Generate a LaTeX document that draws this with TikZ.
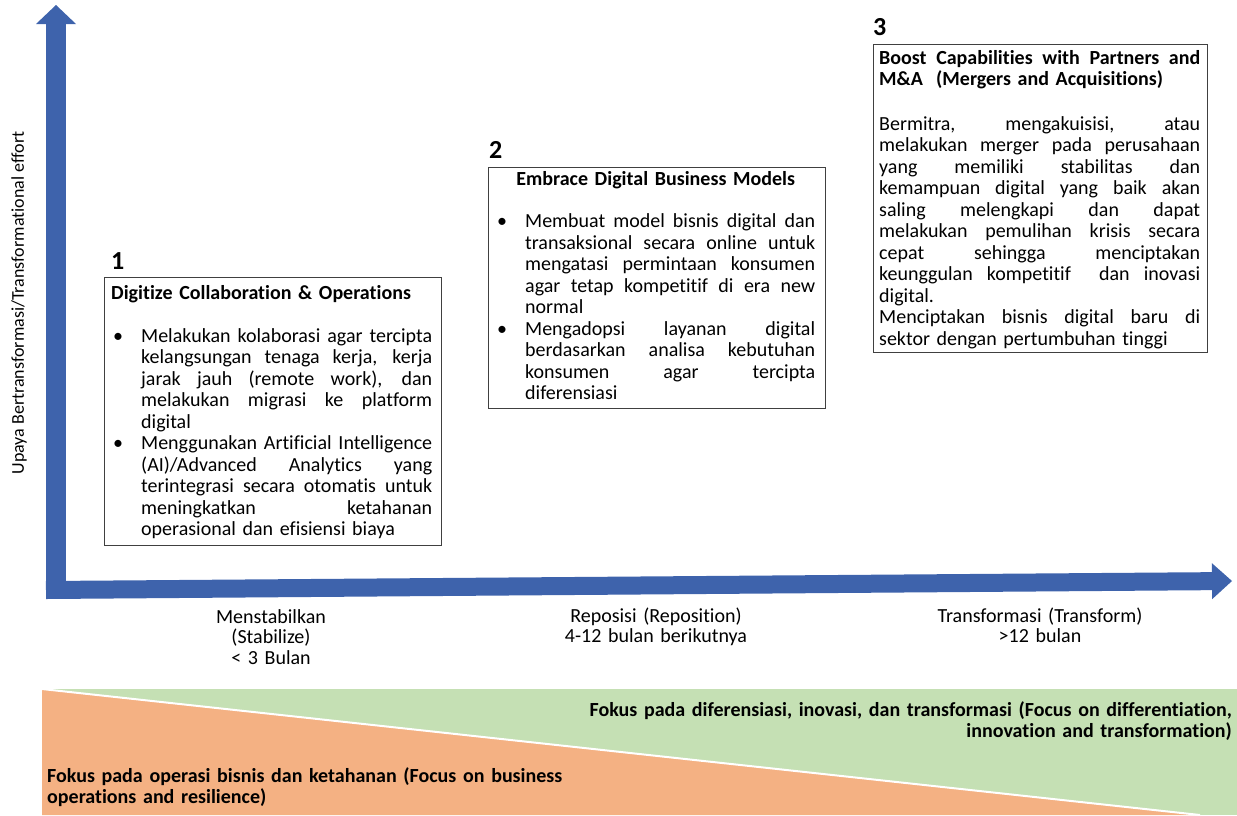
\documentclass[tikz,border=0pt]{standalone}
\usepackage{fontspec}
\setmainfont{Carlito}[Ligatures={NoCommon,NoContextual}]
\usetikzlibrary{arrows.meta}
\definecolor{axisblue}{RGB}{62,99,172}
\definecolor{panelgray}{RGB}{64,64,64}
\definecolor{focusgreen}{RGB}{197,224,180}
\definecolor{focusorange}{RGB}{244,177,131}
% one justified line of a given width: the interword spaces share the slack
\newcommand{\jline}[2]{\leavevmode\hbox to #1{\spaceskip=0.226em plus 1fil\relax #2}}
% bullet and hanging indent for list items
\newcommand{\bul}{\makebox[30pt][l]{\hspace{2pt}\textbullet}}
\newcommand{\ind}{\makebox[30pt]{}}
\begin{document}
\begin{tikzpicture}[x=1pt,y=-1pt,
  panel/.style={draw=panelgray, line width=0.9pt, fill=white, rectangle, inner sep=0pt, anchor=north west},
  body/.style={inner sep=0pt, anchor=base west, align=left, font=\fontsize{20}{21.5}\selectfont},
  stepnum/.style={inner sep=0pt, anchor=base west, font=\bfseries\fontsize{26}{26}\selectfont},
  axislabel/.style={inner sep=0pt, anchor=base, align=center, text width=260pt, font=\fontsize{20}{20.5}\selectfont},
  focus/.style={inner sep=0pt, font=\bfseries\fontsize{20}{21}\selectfont},
  axisarrow/.style={draw=axisblue, line cap=butt},
]
\useasboundingbox (0,0) rectangle (1237,815);

% ---- focus band at the bottom
\coordinate (wedgetop) at (42,689);
\coordinate (wedgeend) at (1200,815);
\coordinate (wedgecorner) at (42,815);
\fill[focusgreen] (42,689) rectangle (1237,815);
\fill[focusorange] (wedgetop) -- (wedgeend) -- (wedgecorner) -- cycle;
\draw[white, line width=2pt] (wedgetop) -- (wedgeend);

\node[focus, anchor=base east, text width=700pt, align=right] (focusinnov) at (1232,716)
  {Fokus pada diferensiasi, inovasi, dan transformasi (Focus on differentiation,\\
   innovation and transformation)};
\node[focus, anchor=base west, text width=600pt, align=left] (focusops) at (47,782)
  {Fokus pada operasi bisnis dan ketahanan (Focus on business\\
   operations and resilience)};

% ---- axes
\coordinate (xstart) at (46,590);
\coordinate (xtip) at (1232,581);
\coordinate (yfoot) at (56,599);
\coordinate (ytip) at (56,5);
\draw[axisarrow, line width=18pt, -{Triangle[width=36pt,length=20pt,line width=0pt]}] (xstart) -- (xtip);
\draw[axisarrow, line width=20pt, -{Triangle[width=40pt,length=19pt,line width=0pt]}] (yfoot) -- (ytip);

\node[rotate=90, inner sep=0pt, font=\fontsize{18}{18}\selectfont] (ylabel) at (19,303)
  {Upaya Bertransformasi/Transformational effort};

% ---- phase labels under the time axis
\node[axislabel] (phase1) at (271,623) {Menstabilkan\\(Stabilize)\\< 3 Bulan};
\node[axislabel] (phase2) at (656,622) {Reposisi (Reposition)\\4-12 bulan berikutnya};
\node[axislabel] (phase3) at (1040,622) {Transformasi (Transform)\\>12 bulan};

% ---- step 1
\node[panel, minimum width=337pt, minimum height=268pt] (box1) at (103.5,277) {};
\node[stepnum] (num1) at (111,269) {1};
\node[body, text width=321pt] (text1) at (111,299) {%
\textbf{Digitize Collaboration \& Operations}\\[21.5pt]
\bul\jline{291pt}{Melakukan kolaborasi agar tercipta}\\
\ind\jline{291pt}{kelangsungan tenaga kerja, kerja}\\
\ind\jline{291pt}{jarak jauh (remote work), dan}\\
\ind\jline{291pt}{melakukan migrasi ke platform}\\
\ind digital\\
\bul\jline{291pt}{Menggunakan Artificial Intelligence}\\
\ind\jline{291pt}{(AI)/Advanced Analytics yang}\\
\ind\jline{291pt}{terintegrasi secara otomatis untuk}\\
\ind\jline{291pt}{meningkatkan ketahanan}\\
\ind operasional dan efisiensi biaya};

% ---- step 2
\node[panel, minimum width=337pt, minimum height=241pt] (box2) at (488,167) {};
\node[stepnum] (num2) at (489,158) {2};
\node[body, text width=321pt] (text2) at (495,185) {%
\makebox[321pt][c]{\textbf{Embrace Digital Business Models}}\\[21pt]
\bul\jline{290pt}{Membuat model bisnis digital dan}\\
\ind\jline{290pt}{transaksional secara online untuk}\\
\ind\jline{290pt}{mengatasi permintaan konsumen}\\
\ind\jline{290pt}{agar tetap kompetitif di era new}\\
\ind normal\\
\bul\jline{290pt}{Mengadopsi layanan digital}\\
\ind\jline{290pt}{berdasarkan analisa kebutuhan}\\
\ind\jline{290pt}{konsumen agar tercipta}\\
\ind diferensiasi};

% ---- step 3
\node[panel, minimum width=334pt, minimum height=308pt] (box3) at (873,44) {};
\node[stepnum] (num3) at (873,35) {3};
\node[body, text width=321pt] (text3) at (879,64) {%
\jline{321pt}{\bfseries Boost Capabilities with Partners and}\\
\textbf{M\&A\ \ (Mergers and Acquisitions)}\\[23pt]
\jline{321pt}{Bermitra, mengakuisisi, atau}\\
\jline{321pt}{melakukan merger pada perusahaan}\\
\jline{321pt}{yang memiliki stabilitas dan}\\
\jline{321pt}{kemampuan digital yang baik akan}\\
\jline{321pt}{saling melengkapi dan dapat}\\
\jline{321pt}{melakukan pemulihan krisis secara}\\
\jline{321pt}{cepat sehingga menciptakan}\\
\jline{321pt}{keunggulan kompetitif\ \ dan inovasi}\\
digital.\\
\jline{321pt}{Menciptakan bisnis digital baru di}\\
sektor dengan pertumbuhan tinggi};
\end{tikzpicture}
\end{document}
